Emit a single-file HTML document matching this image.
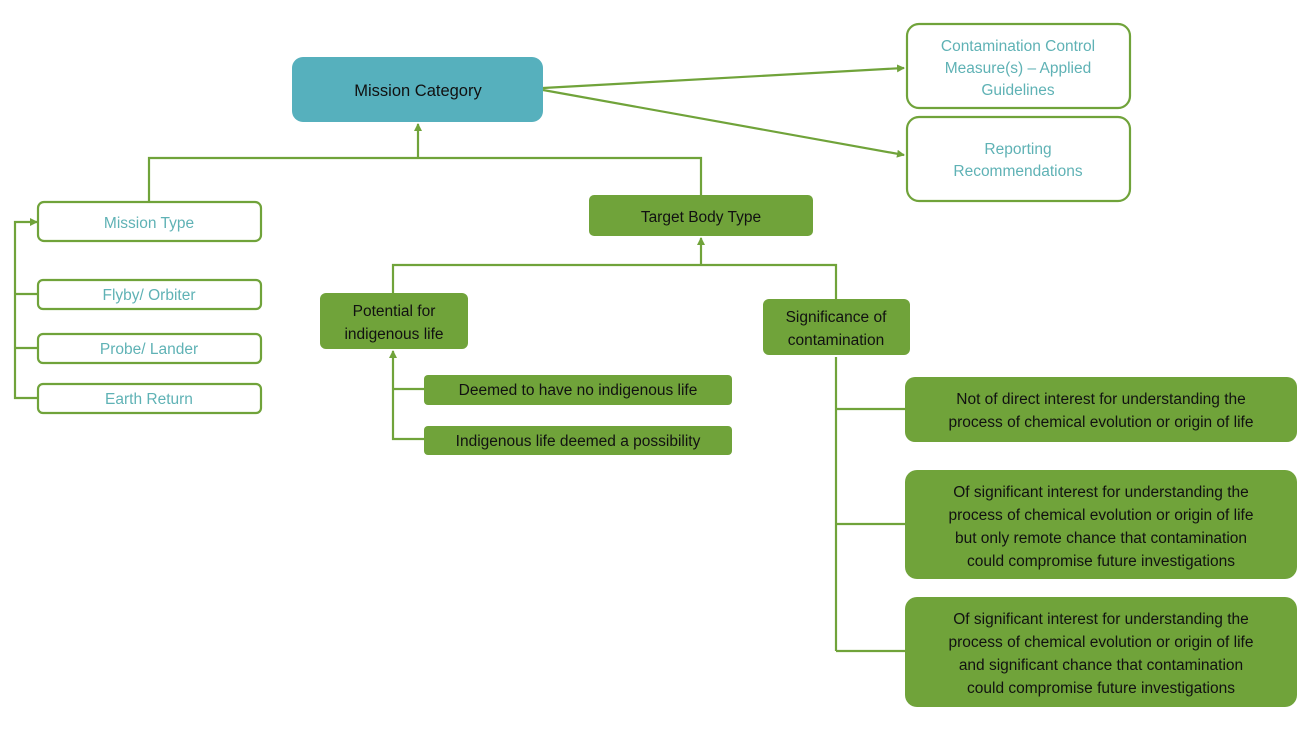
<!DOCTYPE html>
<html><head><style>
body{margin:0;background:#fff;}
svg text{font-family:"Liberation Sans",sans-serif;font-size:15.5px;text-anchor:middle;}
.t{fill:#5fb2b5}
.k{fill:#111}
</style></head><body>
<svg width="1310" height="733" xmlns="http://www.w3.org/2000/svg">
<defs><marker id="a" markerWidth="8" markerHeight="8" refX="7" refY="4" orient="auto" markerUnits="userSpaceOnUse"><path d="M0,0 L8,4 L0,8z" fill="#70a33a"/></marker></defs>
<g stroke="#70a33a" stroke-width="2.2" fill="none">
<line x1="543" y1="88" x2="904" y2="68" marker-end="url(#a)"/>
<line x1="543" y1="90" x2="904" y2="155" marker-end="url(#a)"/>
<line x1="418" y1="158" x2="418" y2="124" marker-end="url(#a)"/>
<polyline points="149,202 149,158 701,158 701,195"/>
<polyline points="38,398 15,398 15,222 37,222" marker-end="url(#a)"/>
<line x1="15" y1="294" x2="38" y2="294"/><line x1="15" y1="348" x2="38" y2="348"/>
<line x1="701" y1="265" x2="701" y2="238" marker-end="url(#a)"/>
<polyline points="393,293 393,265 836,265 836,299"/>
<polyline points="424,439 393,439 393,351" marker-end="url(#a)"/>
<line x1="393" y1="389" x2="424" y2="389"/>
<line x1="836" y1="357" x2="836" y2="651"/>
<line x1="836" y1="409" x2="905" y2="409"/><line x1="836" y1="524" x2="905" y2="524"/><line x1="836" y1="651" x2="905" y2="651"/>
</g>
<rect x="292" y="57" width="251" height="65" rx="11" fill="#56b0bd"/>
<text class="k" x="418" y="96" style="font-size:16.5px">Mission Category</text>
<g fill="#fff" stroke="#70a33a" stroke-width="2.2">
<rect x="907" y="24" width="223" height="84" rx="12"/>
<rect x="907" y="117" width="223" height="84" rx="12"/>
<rect x="38" y="202" width="223" height="39" rx="6"/>
<rect x="38" y="280" width="223" height="29" rx="5"/>
<rect x="38" y="334" width="223" height="29" rx="5"/>
<rect x="38" y="384" width="223" height="29" rx="5"/>
</g>
<text class="t" x="1018" y="51">Contamination Control</text>
<text class="t" x="1018" y="73">Measure(s) – Applied</text>
<text class="t" x="1018" y="95">Guidelines</text>
<text class="t" x="1018" y="154">Reporting</text>
<text class="t" x="1018" y="176">Recommendations</text>
<text class="t" x="149" y="228">Mission Type</text>
<text class="t" x="149" y="300">Flyby/ Orbiter</text>
<text class="t" x="149" y="354">Probe/ Lander</text>
<text class="t" x="149" y="404">Earth Return</text>
<g fill="#70a33a">
<rect x="589" y="195" width="224" height="41" rx="5"/>
<rect x="320" y="293" width="148" height="56" rx="6"/>
<rect x="763" y="299" width="147" height="56" rx="6"/>
<rect x="424" y="375" width="308" height="30" rx="4"/>
<rect x="424" y="426" width="308" height="29" rx="4"/>
<rect x="905" y="377" width="392" height="65" rx="10"/>
<rect x="905" y="470" width="392" height="109" rx="12"/>
<rect x="905" y="597" width="392" height="110" rx="12"/>
</g>
<text class="k" x="701" y="222">Target Body Type</text>
<text class="k" x="394" y="316">Potential for</text>
<text class="k" x="394" y="339">indigenous life</text>
<text class="k" x="836" y="322">Significance of</text>
<text class="k" x="836" y="345">contamination</text>
<text class="k" x="578" y="395">Deemed to have no indigenous life</text>
<text class="k" x="578" y="446">Indigenous life deemed a possibility</text>
<text class="k" x="1101" y="404">Not of direct interest for understanding the</text>
<text class="k" x="1101" y="427">process of chemical evolution or origin of life</text>
<text class="k" x="1101" y="497">Of significant interest for understanding the</text>
<text class="k" x="1101" y="520">process of chemical evolution or origin of life</text>
<text class="k" x="1101" y="543">but only remote chance that contamination</text>
<text class="k" x="1101" y="566">could compromise future investigations</text>
<text class="k" x="1101" y="624">Of significant interest for understanding the</text>
<text class="k" x="1101" y="647">process of chemical evolution or origin of life</text>
<text class="k" x="1101" y="670">and significant chance that contamination</text>
<text class="k" x="1101" y="693">could compromise future investigations</text>
</svg>
</body></html>
